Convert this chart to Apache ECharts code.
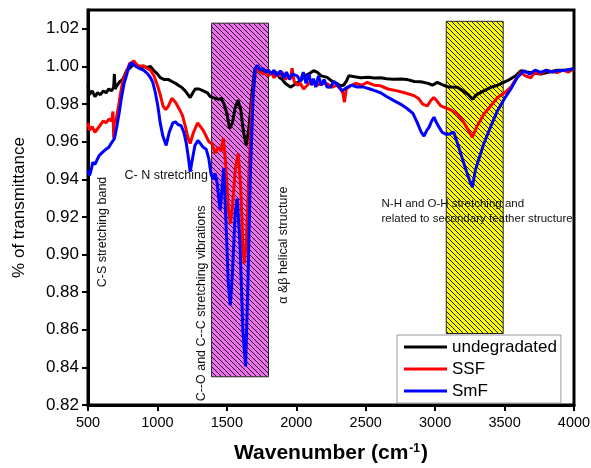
<!DOCTYPE html>
<html>
<head>
<meta charset="utf-8">
<script src="https://cdn.jsdelivr.net/npm/echarts@6.0.0/dist/echarts.min.js"></script>
<style>
  html, body { margin: 0; padding: 0; background: #fff; }
  #ftirChart { width: 591px; height: 468px; }
</style>
</head>
<body>
<div id="ftirChart"></div>
<script>
// wavenumber ticks and transmittance ticks
const xTicks = [500, 1000, 1500, 2000, 2500, 3000, 3500, 4000];
const yTicks = [0.82, 0.84, 0.86, 0.88, 0.90, 0.92, 0.94, 0.96, 0.98, 1.00, 1.02];
const seriesNames = ['undegradated', 'SSF', 'SmF'];

// [wavenumber, transmittance]
const undegradated = [
  [500,0.990],[510,0.985],[530,0.987],[550,0.984],[570,0.986],[590,0.985],[610,0.987],[630,0.986],[650,0.988],[670,0.987],
  [685,0.989],[690,0.996],[695,0.988],[710,0.990],[730,0.992],[750,0.993],[780,0.998],[800,0.999],[826,1.001],[850,1.000],
  [880,0.999],[900,1.000],[923,0.9995],[950,1.000],[970,0.998],[1000,0.996],[1020,0.994],[1050,0.993],[1080,0.993],[1104,0.992],
  [1130,0.991],[1150,0.990],[1176,0.9888],[1200,0.987],[1220,0.985],[1236,0.9834],[1255,0.986],[1272,0.988],[1300,0.988],[1330,0.987],
  [1360,0.986],[1380,0.984],[1400,0.9834],[1420,0.983],[1440,0.9825],[1460,0.983],[1480,0.980],[1500,0.975],[1520,0.967],[1540,0.970],
  [1560,0.978],[1580,0.982],[1600,0.977],[1620,0.965],[1640,0.958],[1660,0.968],[1680,0.985],[1700,0.998],[1720,1.000],[1740,0.998],
  [1760,0.997],[1780,0.998],[1800,0.996],[1820,0.997],[1840,0.995],[1860,0.997],[1880,0.994],[1900,0.993],[1920,0.991],[1940,0.990],
  [1958,0.989],[1980,0.990],[2000,0.991],[2030,0.9924],[2060,0.995],[2090,0.996],[2124,0.9977],[2150,0.997],[2180,0.995],[2222,0.9942],
  [2260,0.992],[2290,0.991],[2318,0.9897],[2340,0.990],[2360,0.992],[2378,0.995],[2420,0.9945],[2463,0.994],[2520,0.9942],[2560,0.9938],
  [2607,0.994],[2650,0.9935],[2700,0.9932],[2751,0.9933],[2800,0.993],[2850,0.992],[2896,0.9919],[2950,0.991],[2980,0.990],[3016,0.9915],
  [3060,0.990],[3100,0.989],[3160,0.9889],[3200,0.987],[3240,0.985],[3268,0.9826],[3300,0.985],[3350,0.987],[3401,0.9889],[3450,0.990],
  [3521,0.9924],[3580,0.995],[3617,0.9977],[3660,0.997],[3700,0.9965],[3762,0.996],[3820,0.997],[3880,0.998],[3940,0.998],[4000,0.9988]
];
const ssf = [
  [500,0.970],[510,0.966],[530,0.968],[550,0.965],[570,0.967],[590,0.969],[610,0.971],[630,0.970],[650,0.972],[670,0.971],
  [680,0.976],[685,0.962],[690,0.972],[700,0.970],[710,0.975],[720,0.979],[735,0.986],[750,0.992],[770,0.996],[800,1.0015],
  [815,1.002],[830,1.003],[850,1.001],[870,1.000],[900,1.0004],[925,0.999],[950,0.998],[975,0.995],[1000,0.990],[1020,0.985],
  [1040,0.979],[1060,0.977],[1080,0.979],[1104,0.983],[1130,0.981],[1160,0.977],[1180,0.974],[1200,0.9685],[1220,0.962],[1236,0.959],
  [1260,0.965],[1290,0.970],[1310,0.968],[1330,0.966],[1350,0.963],[1370,0.960],[1392,0.959],[1416,0.954],[1438,0.957],[1460,0.955],
  [1474,0.962],[1490,0.950],[1510,0.925],[1525,0.9165],[1540,0.925],[1560,0.945],[1582,0.9537],[1600,0.935],[1615,0.905],[1625,0.8953],
  [1640,0.905],[1660,0.945],[1680,0.980],[1705,0.9967],[1720,0.999],[1740,0.997],[1760,0.996],[1780,0.997],[1800,0.995],[1820,0.997],
  [1840,0.994],[1860,0.996],[1886,0.995],[1900,0.997],[1920,0.993],[1940,0.995],[1958,0.9933],[1970,0.999],[1985,0.992],[2010,0.990],
  [2030,0.991],[2052,0.988],[2080,0.990],[2100,0.992],[2124,0.9924],[2150,0.990],[2180,0.991],[2222,0.9908],[2260,0.989],[2290,0.990],
  [2318,0.988],[2335,0.986],[2347,0.981],[2360,0.988],[2390,0.9897],[2430,0.991],[2470,0.990],[2511,0.9915],[2560,0.990],[2607,0.9897],
  [2660,0.988],[2727,0.987],[2780,0.986],[2847,0.9845],[2880,0.983],[2910,0.980],[2944,0.979],[2970,0.982],[2990,0.9835],[3010,0.982],
  [3040,0.979],[3076,0.978],[3110,0.977],[3160,0.9747],[3200,0.971],[3240,0.966],[3268,0.9624],[3300,0.968],[3351,0.9747],[3400,0.979],
  [3449,0.9835],[3500,0.986],[3545,0.989],[3580,0.993],[3617,0.9968],[3650,0.995],[3690,0.994],[3720,0.997],[3760,0.996],[3800,0.998],
  [3850,0.997],[3882,0.9968],[3920,0.998],[3960,0.997],[4000,0.9988]
];
const smf = [
  [500,0.9448],[510,0.942],[520,0.944],[534,0.949],[550,0.948],[580,0.9526],[600,0.954],[630,0.956],[650,0.957],[666,0.959],
  [690,0.9616],[705,0.967],[725,0.9755],[740,0.983],[760,0.991],[780,0.996],[797,1.0004],[810,1.002],[822,1.003],[845,1.000],
  [868,0.999],[900,0.998],[930,0.996],[950,0.994],[967,0.9915],[985,0.986],[1003,0.979],[1020,0.970],[1039,0.963],[1063,0.958],
  [1085,0.965],[1111,0.970],[1130,0.9705],[1150,0.969],[1171,0.9685],[1190,0.965],[1207,0.9595],[1222,0.952],[1236,0.944],[1250,0.950],
  [1270,0.958],[1291,0.9606],[1310,0.959],[1330,0.957],[1351,0.956],[1370,0.951],[1385,0.943],[1400,0.940],[1416,0.943],[1430,0.938],
  [1452,0.9235],[1465,0.935],[1478,0.946],[1495,0.915],[1510,0.885],[1525,0.873],[1540,0.890],[1560,0.922],[1575,0.9298],[1595,0.905],
  [1615,0.860],[1635,0.8405],[1650,0.880],[1670,0.945],[1690,0.985],[1705,0.999],[1720,1.0005],[1740,0.998],[1760,0.999],[1780,0.997],
  [1800,0.998],[1820,0.996],[1840,0.998],[1860,0.995],[1886,0.9977],[1910,0.994],[1930,0.997],[1950,0.993],[1970,0.996],[2006,0.995],
  [2030,0.992],[2050,0.997],[2070,0.991],[2090,0.996],[2110,0.990],[2124,0.9935],[2140,0.989],[2160,0.995],[2180,0.990],[2200,0.993],
  [2222,0.989],[2246,0.9889],[2270,0.992],[2300,0.990],[2330,0.987],[2366,0.9889],[2400,0.990],[2440,0.989],[2486,0.989],[2530,0.988],
  [2570,0.987],[2607,0.986],[2650,0.984],[2703,0.9818],[2750,0.980],[2800,0.9775],[2840,0.975],[2872,0.970],[2900,0.965],[2920,0.963],
  [2940,0.966],[2956,0.9676],[2975,0.971],[2992,0.973],[3010,0.970],[3026,0.968],[3050,0.965],[3076,0.964],[3100,0.964],[3134,0.965],
  [3170,0.957],[3200,0.950],[3240,0.941],[3268,0.9358],[3290,0.945],[3320,0.952],[3351,0.959],[3400,0.968],[3449,0.9765],[3500,0.983],
  [3545,0.988],[3590,0.994],[3640,0.9977],[3680,0.996],[3720,0.998],[3762,0.9968],[3800,0.998],[3840,0.997],[3882,0.9977],[3940,0.998],
  [4000,0.9988]
];

// shaded band regions [xFrom, xTo, yFrom, yTo]
const bandAmide = [1390, 1800, 0.835, 1.023];
const bandNH = [3080, 3490, 0.858, 1.024];

const font = "'Liberation Sans', Arial, sans-serif";

// little diagonal hatch tile for the bands
function hatch(bg) {
  const n = 5;
  const c = document.createElement('canvas');
  c.width = n; c.height = n;
  const ctx = c.getContext('2d');
  ctx.fillStyle = bg;
  ctx.fillRect(0, 0, n, n);
  ctx.fillStyle = '#111';
  for (let i = 0; i < n; i++) {
    ctx.fillRect(i, i, 1, 1);
  }
  return { image: c, repeat: 'repeat' };
}

function band(b, bg) {
  return [
    { xAxis: b[0], yAxis: b[2], itemStyle: { color: hatch(bg), borderColor: '#222', borderWidth: 1 } },
    { xAxis: b[1], yAxis: b[3] }
  ];
}

const chart = echarts.init(document.getElementById('ftirChart'));

const option = {
  backgroundColor: '#fff',
  animation: false,
  grid: {
    left: 88, right: 17, top: 10, bottom: 63,
    outerBoundsMode: 'none',   // keep the plot box where it is, don't shrink for labels
    show: true, borderColor: '#000', borderWidth: 3
  },
  legend: {
    data: seriesNames,
    orient: 'vertical',
    left: 397, top: 335,
    padding: [3, 4, 3, 7],
    itemWidth: 43, itemHeight: 3, itemGap: 4,
    icon: 'rect',
    backgroundColor: '#fff',
    borderColor: '#999', borderWidth: 1,
    textStyle: { fontFamily: font, fontSize: 17, color: '#000', lineHeight: 18 }
  },
  xAxis: {
    type: 'value',
    min: 500, max: 4000, interval: 500,
    name: '{a|Wavenumber (cm}{s|-1}{a|)}',
    nameLocation: 'middle',
    nameGap: 38,
    nameTextStyle: {
      rich: {
        a: { fontFamily: font, fontSize: 21, fontWeight: 'bold', color: '#000' },
        s: { fontFamily: font, fontSize: 12, fontWeight: 'bold', color: '#000', verticalAlign: 'top', padding: [0, 1, 0, 1] }
      }
    },
    axisLine: { lineStyle: { color: '#000', width: 3 } },
    axisTick: { inside: false, length: 6, lineStyle: { color: '#000', width: 2 } },
    axisLabel: { fontFamily: font, fontSize: 14.5, color: '#000', margin: 10,
      customValues: xTicks, formatter: v => String(v) },
    splitLine: { show: false }
  },
  yAxis: {
    type: 'value',
    min: 0.82, max: 1.03, interval: 0.02,
    name: '% of transmittance',
    nameLocation: 'middle',
    nameGap: 60,
    nameTextStyle: { fontFamily: font, fontSize: 17, color: '#000' },
    axisLine: { lineStyle: { color: '#000', width: 3 } },
    axisTick: { inside: false, length: 6, lineStyle: { color: '#000', width: 2 }, customValues: yTicks },
    axisLabel: { fontFamily: font, fontSize: 17, color: '#000', margin: 9,
      customValues: yTicks, formatter: v => v.toFixed(2) },
    splitLine: { show: false }
  },
  series: [
    {
      name: 'bands', type: 'line', data: [], z: 1, silent: true,
      markArea: {
        silent: true,
        data: [band(bandAmide, '#f070f0'), band(bandNH, '#ffff00')]
      }
    },
    { name: seriesNames[0], type: 'line', data: undegradated, symbol: 'none', z: 3,
      lineStyle: { color: '#000', width: 3 }, itemStyle: { color: '#000' } },
    { name: seriesNames[1], type: 'line', data: ssf, symbol: 'none', z: 4,
      lineStyle: { color: '#ff0000', width: 3 }, itemStyle: { color: '#ff0000' } },
    { name: seriesNames[2], type: 'line', data: smf, symbol: 'none', z: 5,
      lineStyle: { color: '#0000ff', width: 3 }, itemStyle: { color: '#0000ff' } }
  ]
};
chart.setOption(option);

// band annotations, placed in data coordinates
const notes = [
  { text: 'C-S stretching band', at: [608, 0.912], rotate: true },
  { text: 'C- N stretching', at: [1063, 0.942] },
  { text: 'C--O and C--C stretching vibrations', at: [1315, 0.874], rotate: true },
  { text: 'α &β helical structure', at: [1907, 0.905], rotate: true },
  { text: 'N-H and O-H stretching and\nrelated to secondary feather structure', at: [2614, 0.9232], left: true }
];

chart.setOption({
  graphic: notes.map(n => {
    const p = chart.convertToPixel({ xAxisIndex: 0, yAxisIndex: 0 }, n.at);
    return {
      type: 'text', x: p[0], y: p[1], z: 10,
      rotation: n.rotate ? Math.PI / 2 : 0,
      style: {
        text: n.text, fill: '#111',
        font: (n.left ? '11.5px ' : '12.5px ') + font,
        lineHeight: 15,
        textAlign: n.left ? 'left' : 'center',
        textVerticalAlign: 'middle'
      }
    };
  })
});
</script>
</body>
</html>
